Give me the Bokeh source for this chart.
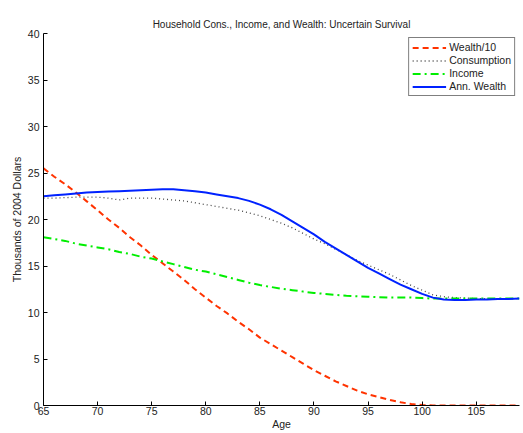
from bokeh.plotting import figure
from bokeh.models import Range1d, FixedTicker, Legend, LegendItem
from bokeh.embed import file_html
from bokeh.resources import INLINE

ages = list(range(65, 110))

wealth10 = [25.5, 24.6, 23.8, 22.9, 21.95, 21.0, 20.0, 19.1, 18.1, 17.2,
            16.2, 15.3, 14.4, 13.5, 12.5, 11.6, 10.7, 9.9, 9.0, 8.2,
            7.3, 6.6, 5.9, 5.2, 4.5, 3.8, 3.2, 2.6, 2.1, 1.6,
            1.2, 0.9, 0.6, 0.35, 0.15, 0.05, 0.0, 0.0, 0.0, 0.0,
            0.0, 0.0, 0.0, 0.0, 0.0]

consumption = [22.3, 22.3, 22.35, 22.4, 22.4, 22.4, 22.3, 22.1, 22.3, 22.3,
               22.3, 22.2, 22.1, 22.0, 21.8, 21.6, 21.4, 21.2, 21.0, 20.7,
               20.4, 20.0, 19.6, 19.1, 18.5, 17.9, 17.4, 16.8, 16.2, 15.6,
               15.1, 14.6, 14.1, 13.5, 12.9, 12.4, 11.9, 11.7, 11.6, 11.55,
               11.5, 11.5, 11.5, 11.5, 11.5]

income = [18.1, 17.9, 17.7, 17.4, 17.2, 17.0, 16.8, 16.5, 16.3, 16.0,
          15.8, 15.5, 15.2, 14.9, 14.6, 14.4, 14.1, 13.8, 13.5, 13.2,
          12.95, 12.75, 12.55, 12.4, 12.25, 12.1, 12.0, 11.9, 11.8, 11.75,
          11.7, 11.65, 11.6, 11.6, 11.6, 11.55, 11.5, 11.5, 11.5, 11.5,
          11.5, 11.5, 11.5, 11.5, 11.5]

ann_wealth = [22.5, 22.6, 22.7, 22.8, 22.9, 22.95, 23.0, 23.05, 23.1, 23.15,
              23.2, 23.25, 23.25, 23.15, 23.05, 22.9, 22.7, 22.5, 22.3, 22.0,
              21.6, 21.1, 20.5, 19.8, 19.1, 18.4, 17.6, 16.9, 16.2, 15.5,
              14.8, 14.2, 13.6, 13.0, 12.5, 12.0, 11.6, 11.4, 11.35, 11.35,
              11.4, 11.4, 11.45, 11.45, 11.5]

x_ticks = [65, 70, 75, 80, 85, 90, 95, 100, 105]
y_ticks = [0, 5, 10, 15, 20, 25, 30, 35, 40]

FONT = "Liberation Sans"

p = figure(width=521, height=432, output_backend="svg", toolbar_location=None,
           x_range=Range1d(65, 109), y_range=Range1d(0, 40),
           title="Household Cons., Income, and Wealth: Uncertain Survival",
           min_border_left=43, min_border_right=2, min_border_top=33, min_border_bottom=0)

p.title.align = "center"
p.title.text_font = FONT
p.title.text_font_style = "normal"
p.title.text_font_size = "10px"
p.title.text_color = "#222222"
p.title.standoff = 8

p.outline_line_color = None
p.grid.visible = False

for ax in (p.xaxis, p.yaxis):
    ax.axis_line_color = "black"
    ax.major_tick_in = 4
    ax.major_tick_out = 0
    ax.minor_tick_line_color = None
    ax.major_tick_line_color = "black"
    ax.major_label_text_font = FONT
    ax.major_label_text_font_size = "10.5px"
    ax.major_label_text_color = "#222222"
    ax.axis_label_text_font = FONT
    ax.axis_label_text_font_size = "10.5px"
    ax.axis_label_text_font_style = "normal"
    ax.axis_label_text_color = "#222222"

p.xaxis.ticker = FixedTicker(ticks=x_ticks)
p.yaxis.ticker = FixedTicker(ticks=y_ticks)
p.xaxis.axis_label = "Age"
p.yaxis.axis_label = "Thousands of 2004 Dollars"
p.xaxis.major_label_standoff = 1
p.xaxis.axis_label_standoff = 0
p.yaxis.major_label_standoff = 4
p.yaxis.axis_label_standoff = 2

r1 = p.line(ages, wealth10, line_color="#ff3300", line_width=2, line_dash="6 4")
r2 = p.line(ages, consumption, line_color="#444444", line_width=1.3, line_dash="1 3")
r3 = p.line(ages, income, line_color="#00ee00", line_width=2, line_dash="8 4 2 4")
r4 = p.line(ages, ann_wealth, line_color="#0022ff", line_width=2)

legend = Legend(items=[
    LegendItem(label="Wealth/10", renderers=[r1]),
    LegendItem(label="Consumption", renderers=[r2]),
    LegendItem(label="Income", renderers=[r3]),
    LegendItem(label="Ann. Wealth", renderers=[r4]),
], location="top_right")
legend.border_line_color = "black"
legend.border_line_width = 1
legend.background_fill_alpha = 1
legend.label_text_font = FONT
legend.label_text_font_size = "10.5px"
legend.label_text_color = "#222222"
legend.glyph_width = 34
legend.glyph_height = 11
legend.label_height = 11
legend.spacing = 1
legend.padding = 3
legend.margin = 4
legend.label_standoff = 3
p.add_layout(legend)

open("out.html", "w").write(file_html(p, INLINE))
